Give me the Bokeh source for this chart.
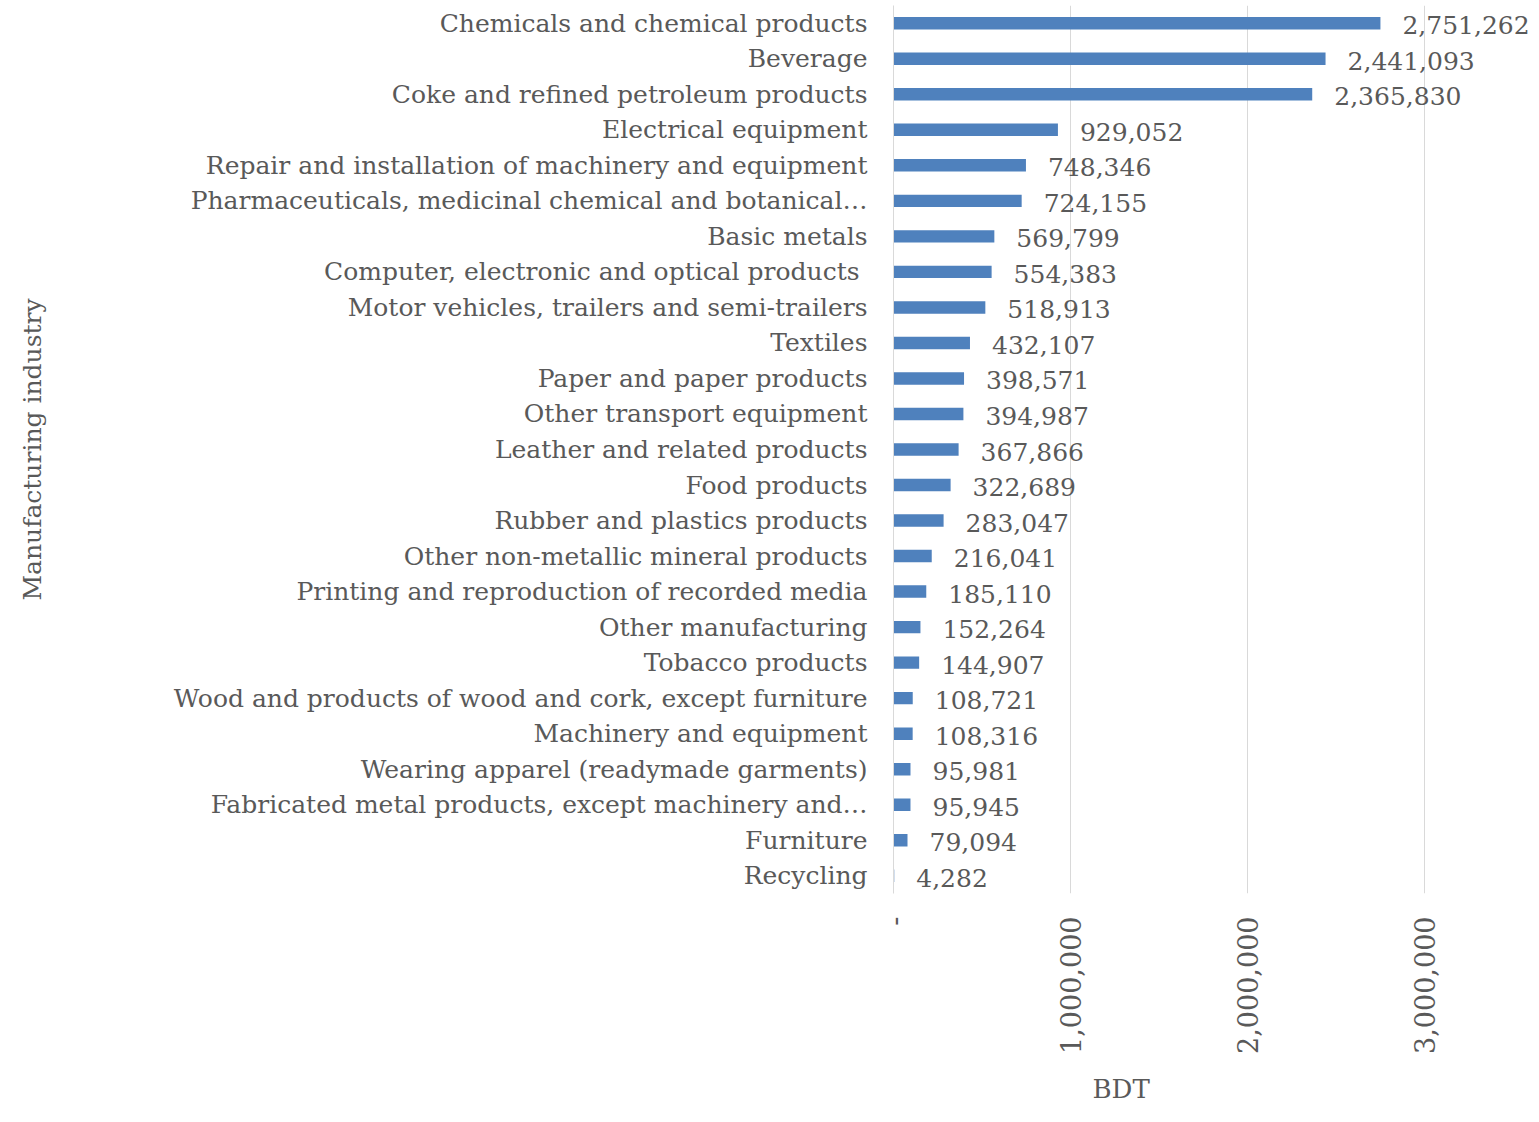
from math import pi

from bokeh.core.properties import value
from bokeh.embed import file_html
from bokeh.models import (ColumnDataSource, CustomJSTickFormatter, FactorRange,
                          FixedTicker, Range1d, Title)
from bokeh.plotting import figure
from bokeh.resources import INLINE

# Manufacturing industries, largest first
industries = [
    "Chemicals and chemical products",
    "Beverage",
    "Coke and refined petroleum products",
    "Electrical equipment",
    "Repair and installation of machinery and equipment",
    "Pharmaceuticals, medicinal chemical and botanical\u2026",
    "Basic metals",
    "Computer, electronic  and optical products",
    "Motor vehicles, trailers and semi-trailers",
    "Textiles",
    "Paper and paper products",
    "Other transport equipment",
    "Leather and related products",
    "Food products",
    "Rubber and plastics products",
    "Other non-metallic mineral products",
    "Printing and reproduction of recorded media",
    "Other manufacturing",
    "Tobacco products",
    "Wood and products of wood and cork, except furniture",
    "Machinery and equipment",
    "Wearing apparel (readymade garments)",
    "Fabricated metal products, except machinery and\u2026",
    "Furniture",
    "Recycling",
]

# Values in BDT
bdt_values = [
    2751262, 2441093, 2365830, 929052, 748346, 724155, 569799, 554383,
    518913, 432107, 398571, 394987, 367866, 322689, 283047, 216041,
    185110, 152264, 144907, 108721, 108316, 95981, 95945, 79094, 4282,
]

x_ticks = [0, 1000000, 2000000, 3000000]

FONT = "DejaVu Serif"
TEXT_COLOR = "#595959"
BAR_COLOR = "#4f81bd"
GRID_COLOR = "#d9d9d9"

source = ColumnDataSource(dict(
    industry=industries,
    value=bdt_values,
    label=[f"{v:,}" for v in bdt_values],
))

p = figure(
    width=1539, height=1122,
    y_range=FactorRange(factors=list(reversed(industries)), range_padding=0),
    x_range=Range1d(0, 3650000),
    output_backend="svg", toolbar_location=None,
    min_border_left=893, min_border_right=0,
    min_border_top=5, min_border_bottom=229,
)
p.outline_line_color = None
p.background_fill_color = "white"
p.border_fill_color = "white"

p.hbar(y="industry", right="value", left=0, height=0.35, source=source,
       fill_color=BAR_COLOR, line_color=None)

p.text(x="value", y="industry", text="label", source=source,
       x_offset=22, y_offset=2, text_align="left", text_baseline="middle",
       text_font=value(FONT), text_font_size="25px", text_color=TEXT_COLOR)

# horizontal value axis
p.xaxis.ticker = FixedTicker(ticks=x_ticks)
p.xaxis.formatter = CustomJSTickFormatter(
    code="return tick == 0 ? '-' : tick.toLocaleString('en-US');")
p.xaxis.major_label_orientation = pi / 2
p.xaxis.major_label_standoff = 23
p.xaxis.axis_line_color = None
p.xaxis.major_tick_line_color = None
p.xaxis.minor_tick_line_color = None
p.xaxis.major_tick_out = 0
p.xaxis.major_label_text_font = FONT
p.xaxis.major_label_text_font_size = "27px"
p.xaxis.major_label_text_color = TEXT_COLOR

p.xgrid.grid_line_color = GRID_COLOR
p.xgrid.grid_line_width = 1
p.ygrid.grid_line_color = None

# category axis
p.yaxis.axis_line_color = GRID_COLOR
p.yaxis.axis_line_width = 1
p.yaxis.major_tick_line_color = None
p.yaxis.minor_tick_line_color = None
p.yaxis.major_tick_out = 0
p.yaxis.major_label_standoff = 26
p.yaxis.major_label_text_font = FONT
p.yaxis.major_label_text_font_size = "25px"
p.yaxis.major_label_text_color = TEXT_COLOR
p.yaxis.axis_label = "Manufacturing industry"
p.yaxis.axis_label_standoff = 124
p.yaxis.axis_label_text_font = FONT
p.yaxis.axis_label_text_font_size = "25px"
p.yaxis.axis_label_text_font_style = "normal"
p.yaxis.axis_label_text_color = TEXT_COLOR

# value axis title
p.add_layout(Title(text="BDT", align="left", offset=199, standoff=30,
                   text_font=FONT, text_font_size="26px",
                   text_font_style="normal", text_color=TEXT_COLOR), "below")

open("out.html", "w").write(file_html(p, INLINE))
